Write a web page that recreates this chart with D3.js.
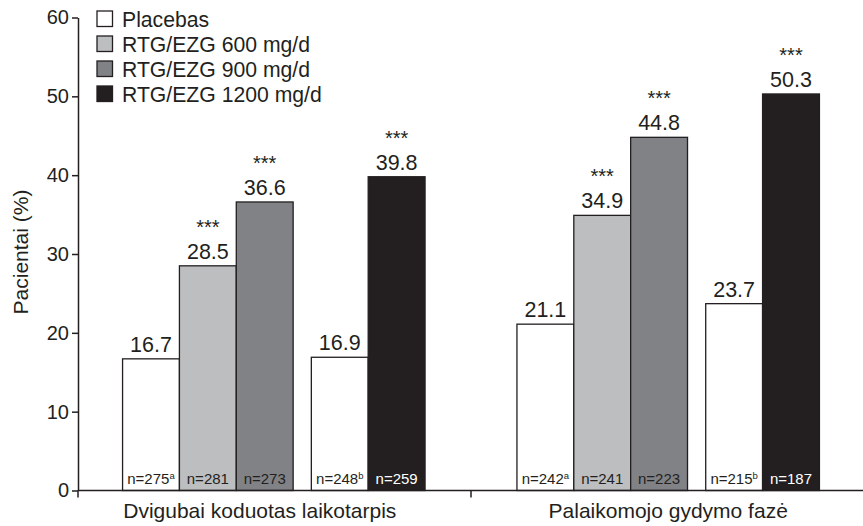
<!DOCTYPE html>
<html>
<head>
<meta charset="utf-8">
<script src="https://cdn.jsdelivr.net/npm/d3@7"></script>
<style>
  body { margin: 0; background: #fff; }
  svg { display: block; font-family: "Liberation Sans", Arial, sans-serif; }
</style>
</head>
<body>
<div id="chart"></div>
<script>
// groups along x
const groups = ["Dvigubai koduotas laikotarpis", "Palaikomojo gydymo fazė"];
// legend series
const series = ["Placebas", "RTG/EZG 600 mg/d", "RTG/EZG 900 mg/d", "RTG/EZG 1200 mg/d"];
const seriesColors = ["#ffffff", "#bcbec0", "#808285", "#231f20"];

// five bars per group: placebo, 600, 900 | placebo, 1200
const slotSeries = [0, 1, 2, 0, 3];
const slotCluster = [0, 0, 0, 1, 1];
const valuesDouble = [16.7, 28.5, 36.6, 16.9, 39.8];
const valuesMaint = [21.1, 34.9, 44.8, 23.7, 50.3];
const nDouble = ["275", "281", "273", "248", "259"];
const nMaint = ["242", "241", "223", "215", "187"];
const nSup = ["a", "", "", "b", ""];
const stars = ["", "***", "***", "", "***"];
const yTicks = [0, 10, 20, 30, 40, 50, 60];

const width = 863,
  height = 526;
const ink = "#231f20";

const svg = d3.select("#chart").append("svg").attr("width", width).attr("height", height);

const y = d3.scaleLinear().domain([0, 60]).range([490.5, 17.5]);

const x0 = d3.scaleBand().domain(groups).range([78, 864]).paddingInner(0.233).paddingOuter(0.113);

// inner positions in bar units, with a small gap between the two clusters
const clusterGap = 0.32;
const nUnits = slotSeries.length + clusterGap;
const xi = d3.scaleLinear().domain([0, nUnits]).range([0, x0.bandwidth()]);
const barW = xi(1) - xi(0);

const bars = [];
groups.forEach((g, gi) => {
  const vals = gi === 0 ? valuesDouble : valuesMaint;
  const ns = gi === 0 ? nDouble : nMaint;
  slotSeries.forEach((s, i) => {
    bars.push({
      group: g,
      series: s,
      value: vals[i],
      n: ns[i],
      sup: nSup[i],
      star: stars[i],
      x: x0(g) + xi(i + slotCluster[i] * clusterGap)
    });
  });
});

// bars
svg.append("g")
  .selectAll("rect")
  .data(bars)
  .join("rect")
  .attr("x", d => d.x)
  .attr("y", d => y(d.value))
  .attr("width", barW)
  .attr("height", d => y(0) - y(d.value))
  .attr("fill", d => seriesColors[d.series])
  .attr("stroke", ink)
  .attr("stroke-width", 1.3);

// value labels
svg.append("g")
  .selectAll("text")
  .data(bars)
  .join("text")
  .attr("x", d => d.x + barW / 2)
  .attr("y", d => y(d.value) - 7)
  .attr("text-anchor", "middle")
  .attr("font-size", 21.5)
  .attr("fill", ink)
  .text(d => d.value.toFixed(1));

// significance stars
svg.append("g")
  .selectAll("text")
  .data(bars.filter(d => d.star))
  .join("text")
  .attr("x", d => d.x + barW / 2)
  .attr("y", d => y(d.value) - 32)
  .attr("text-anchor", "middle")
  .attr("font-size", 20)
  .attr("fill", ink)
  .text(d => d.star);

// n labels inside the bars
const nText = svg.append("g")
  .selectAll("text")
  .data(bars)
  .join("text")
  .attr("x", d => d.x + barW / 2)
  .attr("y", y(0) - 7)
  .attr("text-anchor", "middle")
  .attr("font-size", 15)
  .attr("fill", d => (d.series === 3 ? "#fff" : ink));
nText.append("tspan").text(d => "n=" + d.n);
nText.filter(d => d.sup)
  .append("tspan")
  .attr("font-size", 9.5)
  .attr("dy", -5)
  .text(d => d.sup);

// y axis
const yAxis = svg.append("g")
  .attr("transform", "translate(78,0)")
  .call(d3.axisLeft(y).tickValues(yTicks).tickSize(6).tickSizeOuter(0).tickPadding(3));
yAxis.select(".domain").attr("stroke", ink).attr("stroke-width", 1.5);
yAxis.selectAll(".tick line").attr("stroke", ink).attr("stroke-width", 1.5);
yAxis.selectAll(".tick text")
  .attr("font-size", 20)
  .attr("font-family", "Liberation Sans, Arial, sans-serif")
  .attr("fill", ink);

// x axis baseline and separators
svg.append("line")
  .attr("x1", 78).attr("x2", width)
  .attr("y1", y(0)).attr("y2", y(0))
  .attr("stroke", ink).attr("stroke-width", 1.5);

const seps = [78, x0(groups[1]) - (x0.step() - x0.bandwidth()) / 2];
svg.append("g")
  .selectAll("line")
  .data(seps)
  .join("line")
  .attr("x1", d => d).attr("x2", d => d)
  .attr("y1", y(0)).attr("y2", y(0) + 7)
  .attr("stroke", ink).attr("stroke-width", 1.5);

// group labels
const groupLabelShift = [-14, 0];
svg.append("g")
  .selectAll("text")
  .data(groups)
  .join("text")
  .attr("x", (d, i) => x0(d) + x0.bandwidth() / 2 + groupLabelShift[i])
  .attr("y", 518)
  .attr("text-anchor", "middle")
  .attr("font-size", 21)
  .attr("fill", ink)
  .text(d => d);

// y title
svg.append("text")
  .attr("transform", "translate(28,252) rotate(-90)")
  .attr("text-anchor", "middle")
  .attr("font-size", 21)
  .attr("fill", ink)
  .text("Pacientai (%)");

// legend
const legend = svg.append("g")
  .selectAll("g")
  .data(series)
  .join("g")
  .attr("transform", (d, i) => `translate(97,${26.5 + i * 25})`);
legend.append("rect")
  .attr("x", 0)
  .attr("y", -15.5)
  .attr("width", 15.5)
  .attr("height", 15.5)
  .attr("fill", (d, i) => seriesColors[i])
  .attr("stroke", ink)
  .attr("stroke-width", 1.3);
legend.append("text")
  .attr("x", 25)
  .attr("y", 0)
  .attr("font-size", 21.2)
  .attr("fill", ink)
  .text(d => d);
</script>
</body>
</html>
